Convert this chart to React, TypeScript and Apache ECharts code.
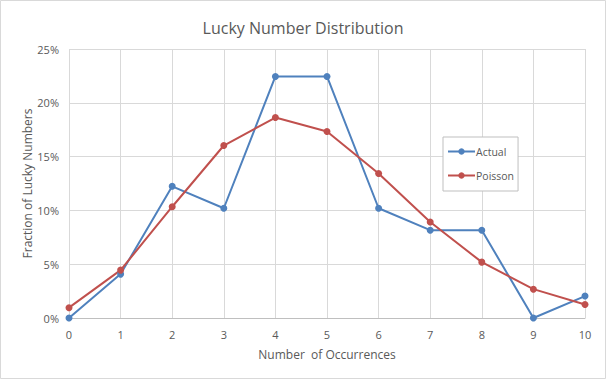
import React, { useEffect, useRef } from "react";
import * as echarts from "echarts";

const occurrences = [0, 1, 2, 3, 4, 5, 6, 7, 8, 9, 10];
const actual = [0, 0.0408, 0.1224, 0.102, 0.2245, 0.2245, 0.102, 0.0816, 0.0816, 0, 0.0204];
const poisson = [0.0096, 0.0445, 0.1034, 0.1603, 0.1863, 0.1733, 0.1343, 0.0892, 0.0519, 0.0268, 0.0125];
const seriesNames = ["Actual", "Poisson"];

export default function App() {
  const ref = useRef<HTMLDivElement>(null);
  useEffect(() => {
    document.body.style.margin = "0";
    const chart = echarts.init(ref.current!, undefined, { renderer: "svg" });
    const font = "'Open Sans', 'Noto Sans', sans-serif";
    chart.setOption({
      animation: false,
      backgroundColor: "#ffffff",
      textStyle: { fontFamily: font },
      title: {
        text: "Lucky Number Distribution",
        left: "center",
        top: 15,
        textStyle: { fontSize: 16, fontWeight: "normal", color: "#595959", fontFamily: font },
      },
      graphic: [
        {
          type: "rect",
          shape: { x: 0.5, y: 0.5, width: 605, height: 378 },
          style: { fill: "none", stroke: "#D9D9D9", lineWidth: 1 },
          silent: true,
        },
      ],
      legend: {
        orient: "vertical",
        left: 443,
        top: 137,
        padding: [9, 4, 10, 4],
        itemGap: 13,
        itemWidth: 27,
        itemHeight: 8,
        borderColor: "#BFBFBF",
        borderWidth: 1,
        backgroundColor: "#ffffff",
        data: seriesNames,
        textStyle: { fontSize: 10.5, color: "#595959", fontFamily: font, padding: [0, 0, 0, -4] },
      },
      grid: { left: 69, right: 21, top: 49, bottom: 61, containLabel: false },
      xAxis: {
        type: "value",
        min: 0,
        max: 10,
        interval: 1,
        name: "Number  of Occurrences",
        nameLocation: "middle",
        nameGap: 30,
        nameMoveOverlap: false,
        nameTextStyle: { fontSize: 12, color: "#595959" },
        axisLine: { lineStyle: { color: "#BFBFBF" } },
        axisTick: { show: false },
        axisLabel: { fontSize: 11, color: "#595959", margin: 11 },
        splitLine: { show: true, lineStyle: { color: "#D9D9D9" } },
      },
      yAxis: {
        type: "value",
        min: 0,
        max: 0.25,
        interval: 0.05,
        name: "Fraction of Lucky Numbers",
        nameLocation: "middle",
        nameGap: 36,
        nameMoveOverlap: false,
        nameTextStyle: { fontSize: 12, color: "#595959" },
        axisLine: { show: false },
        axisTick: { show: false },
        axisLabel: {
          fontSize: 11,
          color: "#595959",
          margin: 10,
          formatter: (v: number) => Math.round(v * 100) + "%",
        },
        splitLine: { show: true, lineStyle: { color: "#D9D9D9" } },
      },
      series: [
        {
          name: seriesNames[0],
          type: "line",
          data: occurrences.map((x, i) => [x, actual[i]]),
          color: "#4F81BD",
          lineStyle: { width: 2 },
          symbol: "circle",
          symbolSize: 7,
        },
        {
          name: seriesNames[1],
          type: "line",
          data: occurrences.map((x, i) => [x, poisson[i]]),
          color: "#C0504D",
          lineStyle: { width: 2 },
          symbol: "circle",
          symbolSize: 7,
        },
      ],
    });
    return () => chart.dispose();
  }, []);
  return <div ref={ref} style={{ width: 606, height: 379 }} />;
}
